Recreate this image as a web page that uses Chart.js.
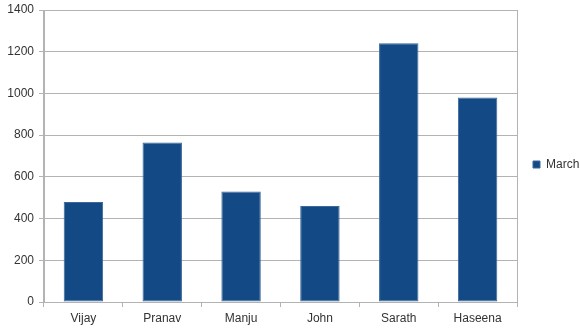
<!DOCTYPE html>
<html>
<head>
<meta charset="utf-8">
<script src="https://cdn.jsdelivr.net/npm/chart.js@4/dist/chart.umd.min.js"></script>
<style>
  html, body { margin: 0; padding: 0; background: #fff; }
  #wrap { width: 580px; height: 329px; }
</style>
</head>
<body>
<div id="wrap"><canvas id="grafico"></canvas></div>
<script>
// dados do grafico
const names = ["Vijay", "Pranav", "Manju", "John", "Sarath", "Haseena"];
const march = [480, 765, 530, 460, 1240, 980];
const seriesLabel = "March";

const gridCor = "#b3b3b3";
const textoCor = "#333333";

Chart.defaults.font.family = "'Liberation Sans', Arial, sans-serif";
Chart.defaults.font.size = 12;
Chart.defaults.color = textoCor;

new Chart(document.getElementById("grafico"), {
  type: "bar",
  data: {
    labels: names,
    datasets: [{
      label: seriesLabel,
      data: march,
      backgroundColor: "#134a86",
      borderColor: "#3a6899",
      borderWidth: 1,
      borderSkipped: false,
      barPercentage: 0.5,
      categoryPercentage: 1.0
    }]
  },
  options: {
    responsive: true,
    maintainAspectRatio: false,
    animation: false,
    layout: { padding: 0 },
    plugins: {
      tooltip: { enabled: false },
      legend: {
        position: "right",
        maxWidth: 63,
        labels: {
          boxWidth: 7,
          boxHeight: 7,
          padding: 16,
          color: textoCor,
          font: { size: 12 }
        }
      }
    },
    scales: {
      x: {
        afterFit: s => { s.height = 27; },
        grid: {
          offset: true,
          // so a primeira e a ultima linha (bordas do grafico)
          color: c => (c.index === 0 || c.index === undefined) ? gridCor : "rgba(0,0,0,0)",
          tickColor: gridCor,
          tickLength: 5
        },
        border: { display: false },
        ticks: { padding: 4, color: textoCor }
      },
      y: {
        min: 0,
        max: 1400,
        afterFit: s => { s.width = 44; s.paddingTop = 10; },
        ticks: { stepSize: 200, padding: 5, color: textoCor, callback: v => String(v) },
        grid: { color: gridCor, tickColor: gridCor, tickLength: 5 },
        border: { color: gridCor }
      }
    }
  }
});
</script>
</body>
</html>
